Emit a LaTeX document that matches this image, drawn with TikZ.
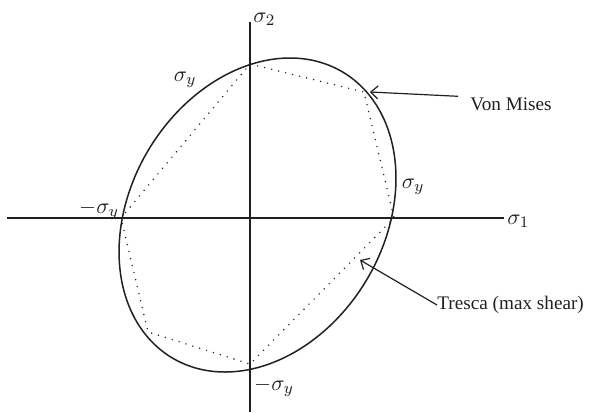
\documentclass[tikz,border=0pt]{standalone}
\usepackage{fontspec}
\setmainfont{Liberation Serif}
\usetikzlibrary{arrows.meta}
\definecolor{inkdark}{HTML}{231F20}
\tikzset{
  axisline/.style={inkdark, line width=0.6pt},
  vmcurve/.style={inkdark, line width=0.75pt},
  trescaline/.style={inkdark, line width=0.8pt, line cap=round, dash pattern=on 0pt off 3.6pt},
  callout/.style={inkdark, line width=0.6pt, -{Straight Barb[length=3.5pt, width=6.5pt]}},
  sigmalabel/.style={font=\fontsize{11}{13}\selectfont},
}

\begin{document}
\begin{tikzpicture}[x=0.5pt, y=-0.5pt, font=\fontsize{9.6}{11}\selectfont, text=inkdark]
  \useasboundingbox (0,0) rectangle (593,412);
  % axes
  \coordinate (s1start) at (7,218);
  \coordinate (s1end) at (504,218);
  \coordinate (s2start) at (250,412);
  \coordinate (s2end) at (250,22);
  \draw[axisline] (s1start) -- (s1end);
  \draw[axisline] (s2start) -- (s2end);
  \node[sigmalabel, anchor=base west, inner sep=0pt] (s1) at (507,224) {$\sigma_1$};
  \node[sigmalabel, anchor=base west, inner sep=0pt] (s2) at (253,22) {$\sigma_2$};
  % von Mises ellipse
  \draw[vmcurve] plot[smooth cycle, domain=0:358, samples=180]
    ({257.5+32.5*cos(\x)+134.6*sin(\x)}, {215-157*cos(\x)});
  % Tresca hexagon
  \draw[trescaline] (121,218) -- (250,64) -- (364,92) -- (394,218)
    -- (250,364) -- (148,332) -- cycle;
  % yield stress labels
  \node[sigmalabel] (sytop) at (185,80) {$\sigma_y$};
  \node[sigmalabel] (syright) at (413,187) {$\sigma_y$};
  \node[sigmalabel] (syleft) at (99,210) {$-\sigma_y$};
  \node[sigmalabel] (sybottom) at (274,387) {$-\sigma_y$};
  % callouts
  \coordinate (vmtip) at (370,92);
  \coordinate (trtip) at (360,260);
  \node[anchor=base west, inner sep=0pt] (vm) at (470,110) {Von Mises};
  \node[anchor=west, inner sep=0pt] (tresca) at (437,305) {Tresca (max shear)};
  \draw[callout, shorten <=6pt] (vm.north west) -- (vmtip);
  \draw[callout] (tresca.west) -- (trtip);
\end{tikzpicture}
\end{document}
